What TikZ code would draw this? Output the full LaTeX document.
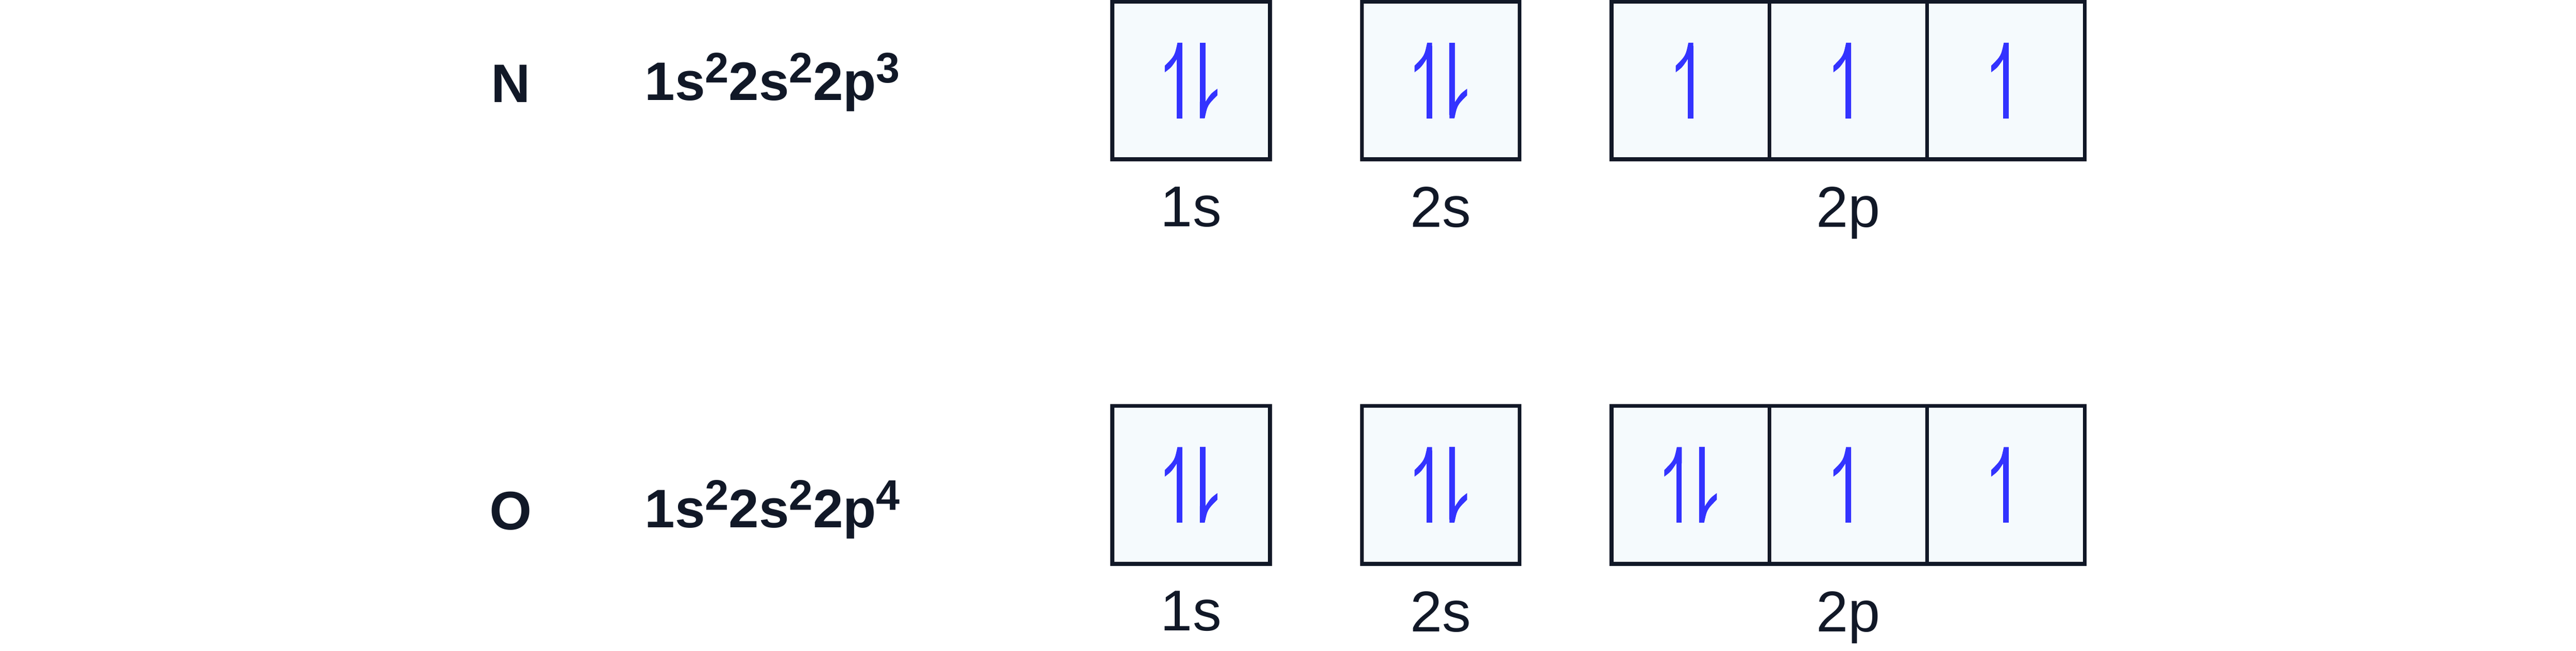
\documentclass[tikz,border=0pt]{standalone}
\usepackage{fontspec}
\setmainfont{Liberation Sans}
\usetikzlibrary{calc}
\definecolor{ink}{HTML}{111827}
\definecolor{boxfill}{HTML}{F5FAFD}
\definecolor{arr}{HTML}{3333FF}
\newcommand{\sps}[1]{{\fontsize{26}{26}\selectfont\raisebox{0.4em}{#1}}}
\begin{document}
\begin{tikzpicture}[x=1pt,y=-1pt,
  orb/.style={draw=ink,fill=boxfill,line width=2.4pt,minimum width=96pt,minimum height=96pt,inner sep=0pt},
  lab/.style={text=ink,font=\fontsize{35}{35}\selectfont},
  elem/.style={text=ink,font=\bfseries\fontsize{33}{33}\selectfont},
  harp/.style={draw=arr,line width=3.4pt}]
\useasboundingbox (0,0) rectangle (1568,396);
\newcommand{\uparr}[2]{%
  \coordinate (t) at ($(#1)+(#2,0)$);
  \draw[harp] ($(t)+(0,-21)$) -- ($(t)+(0,23)$);
  \fill[arr] ($(t)+(1.7,-23)$) -- ($(t)+(-1.3,-23)$) .. controls ($(t)+(-3,-15)$) .. ($(t)+(-9,-9)$) -- ($(t)+(-9,-5)$) .. controls ($(t)+(-5,-8)$) .. ($(t)+(-1.7,-13)$) -- ($(t)+(1.7,-13)$) -- cycle;}
\newcommand{\downarr}[2]{%
  \coordinate (t) at ($(#1)+(#2,0)$);
  \draw[harp] ($(t)+(0,21)$) -- ($(t)+(0,-23)$);
  \fill[arr] ($(t)+(-1.7,23)$) -- ($(t)+(1.3,23)$) .. controls ($(t)+(3,15)$) .. ($(t)+(9,9)$) -- ($(t)+(9,5)$) .. controls ($(t)+(5,8)$) .. ($(t)+(1.7,13)$) -- ($(t)+(-1.7,13)$) -- cycle;}
\foreach \r/\yy in {a/49,b/295}{
  \node[orb] (\r1s) at (725,\yy) {};
  \node[orb] (\r2s) at (877,\yy) {};
  \node[orb] (\r2pa) at (1029,\yy) {};
  \node[orb] (\r2pb) at (1125,\yy) {};
  \node[orb] (\r2pc) at (1221,\yy) {};
  \node[lab,anchor=north] (\r l1s) at ([yshift=-12pt]\r1s.south) {1s};
  \node[lab,anchor=north] (\r l2s) at ([yshift=-12pt]\r2s.south) {2s};
  \node[lab,anchor=north] (\r l2p) at ([yshift=-12pt]\r2pb.south) {2p};
}
\uparr{a1s}{-7}\downarr{a1s}{7}
\uparr{a2s}{-7}\downarr{a2s}{7}
\uparr{a2pa}{0}\uparr{a2pb}{0}\uparr{a2pc}{0}
\uparr{b1s}{-7}\downarr{b1s}{7}
\uparr{b2s}{-7}\downarr{b2s}{7}
\uparr{b2pa}{-7}\downarr{b2pa}{7}
\uparr{b2pb}{0}\uparr{b2pc}{0}
\node[elem] (eN) at (311,51) {N};
\node[elem] (eO) at (311,311) {O};
\node[elem,anchor=west] (cN) at (389,50) {1s\sps{2}2s\sps{2}2p\sps{3}};
\node[elem,anchor=west] (cO) at (389,310) {1s\sps{2}2s\sps{2}2p\sps{4}};
\end{tikzpicture}
\end{document}
